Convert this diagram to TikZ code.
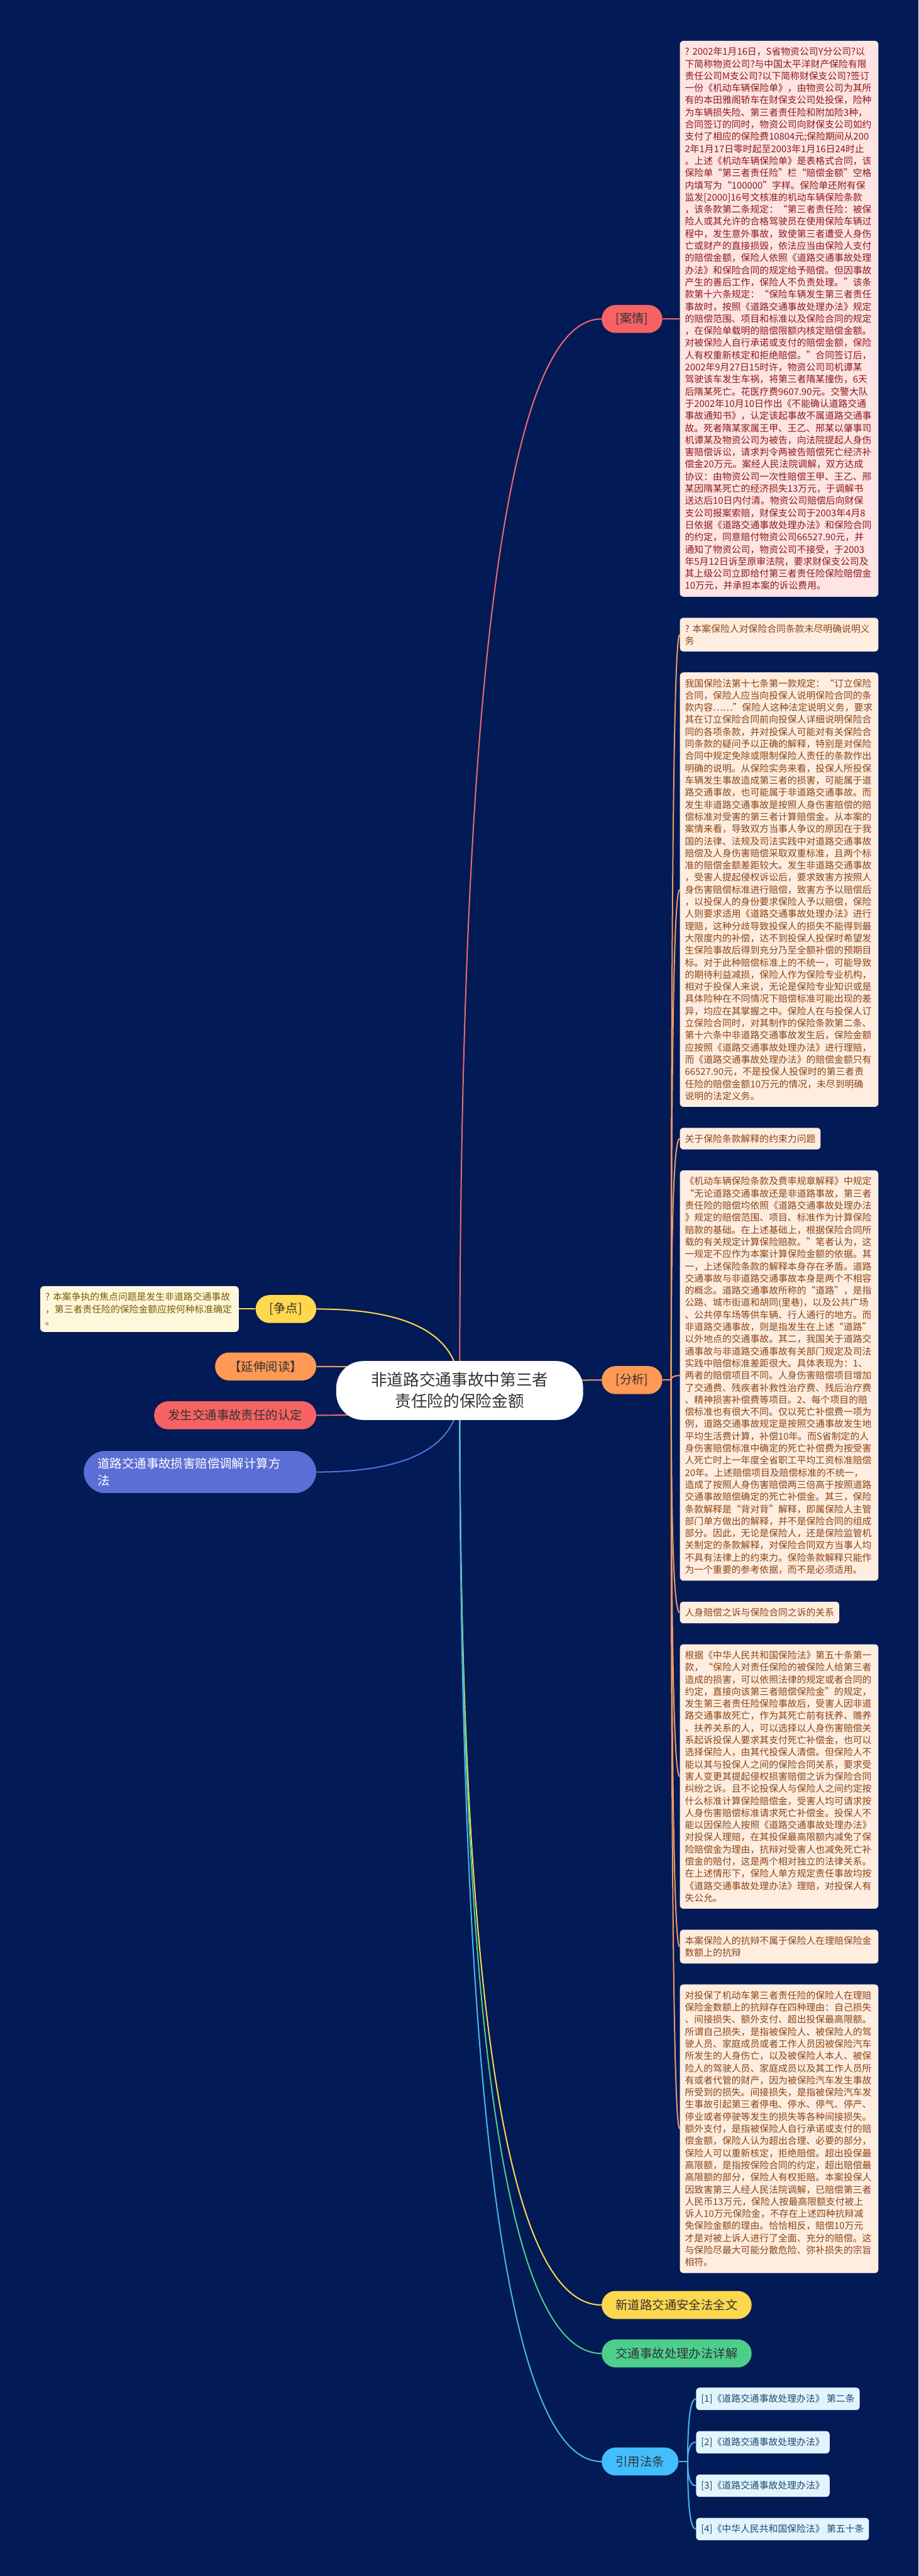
\documentclass[tikz,border=0pt]{standalone}
\usepackage{fontspec}
\setmainfont{Noto Sans CJK SC}
\usetikzlibrary{positioning,calc}

\definecolor{navy}{HTML}{021A56}
\definecolor{darktext}{HTML}{333333}
\definecolor{aqred}{HTML}{F76363}
\definecolor{aqline}{HTML}{EE6A6E}
\definecolor{aqpale}{HTML}{FFE4E4}
\definecolor{aqtext}{HTML}{8C1A1A}
\definecolor{fxorange}{HTML}{FF9955}
\definecolor{fxline}{HTML}{F2995E}
\definecolor{fxpale}{HTML}{FFEDE0}
\definecolor{fxtext}{HTML}{8A4513}
\definecolor{zdyellow}{HTML}{FFD84D}
\definecolor{zdpale}{HTML}{FFF7DC}
\definecolor{zdtext}{HTML}{7A5C00}
\definecolor{jtgreen}{HTML}{4DCF8B}
\definecolor{jsblue}{HTML}{5A6ED4}
\definecolor{yyblue}{HTML}{42BEFF}
\definecolor{yyline}{HTML}{4AB5F0}
\definecolor{yypale}{HTML}{E2F5FF}
\definecolor{yytext}{HTML}{21486B}

\pgfdeclarelayer{bg}
\pgfdeclarelayer{lines}
\pgfsetlayers{bg,lines,main}

\begin{document}
\begin{tikzpicture}[
  topic/.style={rounded corners=0.39cm, minimum height=0.78cm, inner xsep=0.39cm,
    inner ysep=0.2cm, font=\fontsize{9.67}{13.1}\selectfont, text=darktext},
  note/.style={rounded corners=0.1cm, inner xsep=0.14cm, inner ysep=0.18cm,
    font=\fontsize{7.4}{9.62}\selectfont, align=left, anchor=north west},
  longnote/.style={note, text width=5.25cm},
  fxnote/.style={longnote, fill=fxpale, text=fxtext},
  fxshort/.style={note, fill=fxpale, text=fxtext},
  refnote/.style={rounded corners=0.1cm, inner xsep=0.14cm, inner ysep=0.18cm,
    font=\fontsize{7.4}{9.62}\selectfont, fill=yypale, text=yytext},
  link/.style={line width=1pt},
  branch/.style={to path={.. controls ($(\tikztostart)!0.667!(\tikztostart |- \tikztotarget)$)
    and ($(\tikztotarget)!0.667!(\tikztostart |- \tikztotarget)$) .. (\tikztotarget)}}]

\useasboundingbox (0,0) rectangle (25.6,-71.75);
\begin{pgfonlayer}{bg}
\fill[navy] (0,0) rectangle (25.6,-71.75);
\end{pgfonlayer}

\node[fill=white, rounded corners=0.75cm, minimum width=6.88cm, minimum height=1.64cm,
  align=center, font=\fontsize{12.8}{17.1}\selectfont, text=darktext] (root) at (12.81,-38.73)
  {非道路交通事故中第三者\\责任险的保险金额};

\node[topic, fill=zdyellow, anchor=east] (zd) at (8.82,-36.46) {[争点]};
\node[longnote, fill=zdpale, text=zdtext, anchor=east] (zdnote) at (6.66,-36.46)
  {?~本案争执的焦点问题是发生非道路交通事故\\，第三者责任险的保险金额应按何种标准确定\\。};
\node[topic, fill=fxorange, anchor=east] (yd) at (8.82,-38.06) {【延伸阅读】};
\node[topic, fill=aqred, anchor=east] (rd) at (8.82,-39.42) {发生交通事故责任的认定};
\node[topic, fill=jsblue, text=white, anchor=east, text width=5.7cm, align=left,
  rounded corners=0.6cm] (js) at (8.82,-41.00) {道路交通事故损害赔偿调解计算方\\法};

\node[topic, fill=aqred, anchor=west] (aq) at (16.76,-8.885) {[案情]};
\node[topic, fill=fxorange, anchor=west] (fx) at (16.76,-38.44) {[分析]};
\node[topic, fill=zdyellow, anchor=west] (xl) at (16.76,-64.20) {新道路交通安全法全文};
\node[topic, fill=jtgreen, anchor=west] (jt) at (16.76,-65.55) {交通事故处理办法详解};
\node[topic, fill=yyblue, anchor=west] (yy) at (16.76,-68.56) {引用法条};

\node[longnote, fill=aqpale, text=aqtext] (aqnote) at (18.94,-1.13)
  {?~2002年1月16日，S省物资公司Y分公司?以\\
下简称物资公司?与中国太平洋财产保险有限\\
责任公司M支公司?以下简称财保支公司?签订\\
一份《机动车辆保险单》，由物资公司为其所\\
有的本田雅阁轿车在财保支公司处投保，险种\\
为车辆损失险、第三者责任险和附加险3种，\\
合同签订的同时，物资公司向财保支公司如约\\
支付了相应的保险费10804元;保险期间从200\\
2年1月17日零时起至2003年1月16日24时止\\
。上述《机动车辆保险单》是表格式合同，该\\
保险单“第三者责任险”栏“赔偿金额”空格\\
内填写为“100000”字样。保险单还附有保\\
监发[2000]16号文核准的机动车辆保险条款\\
，该条款第二条规定：“第三者责任险：被保\\
险人或其允许的合格驾驶员在使用保险车辆过\\
程中，发生意外事故，致使第三者遭受人身伤\\
亡或财产的直接损毁，依法应当由保险人支付\\
的赔偿金额，保险人依照《道路交通事故处理\\
办法》和保险合同的规定给予赔偿。但因事故\\
产生的善后工作，保险人不负责处理。”该条\\
款第十六条规定：“保险车辆发生第三者责任\\
事故时，按照《道路交通事故处理办法》规定\\
的赔偿范围、项目和标准以及保险合同的规定\\
，在保险单载明的赔偿限额内核定赔偿金额。\\
对被保险人自行承诺或支付的赔偿金额，保险\\
人有权重新核定和拒绝赔偿。”合同签订后，\\
2002年9月27日15时许，物资公司司机谭某\\
驾驶该车发生车祸，将第三者隋某撞伤，6天\\
后隋某死亡。花医疗费9607.90元。交警大队\\
于2002年10月10日作出《不能确认道路交通\\
事故通知书》，认定该起事故不属道路交通事\\
故。死者隋某家属王甲、王乙、邢某以肇事司\\
机谭某及物资公司为被告，向法院提起人身伤\\
害赔偿诉讼，请求判令两被告赔偿死亡经济补\\
偿金20万元。案经人民法院调解，双方达成\\
协议：由物资公司一次性赔偿王甲、王乙、邢\\
某因隋某死亡的经济损失13万元，于调解书\\
送达后10日内付清。物资公司赔偿后向财保\\
支公司报案索赔，财保支公司于2003年4月8\\
日依据《道路交通事故处理办法》和保险合同\\
的约定，同意赔付物资公司66527.90元，并\\
通知了物资公司，物资公司不接受，于2003\\
年5月12日诉至原审法院，要求财保支公司及\\
其上级公司立即给付第三者责任险保险赔偿金\\
10万元，并承担本案的诉讼费用。};

\node[fxnote] (fx1) at (18.94,-17.20) {?~本案保险人对保险合同条款未尽明确说明义\\务};
\node[fxnote, below=0.57cm of fx1.south west, anchor=north west] (fx2)
  {我国保险法第十七条第一款规定：“订立保险\\
合同，保险人应当向投保人说明保险合同的条\\
款内容……”保险人这种法定说明义务，要求\\
其在订立保险合同前向投保人详细说明保险合\\
同的各项条款，并对投保人可能对有关保险合\\
同条款的疑问予以正确的解释，特别是对保险\\
合同中规定免除或限制保险人责任的条款作出\\
明确的说明。从保险实务来看，投保人所投保\\
车辆发生事故造成第三者的损害，可能属于道\\
路交通事故，也可能属于非道路交通事故。而\\
发生非道路交通事故是按照人身伤害赔偿的赔\\
偿标准对受害的第三者计算赔偿金。从本案的\\
案情来看，导致双方当事人争议的原因在于我\\
国的法律、法规及司法实践中对道路交通事故\\
赔偿及人身伤害赔偿采取双重标准，且两个标\\
准的赔偿金额差距较大。发生非道路交通事故\\
，受害人提起侵权诉讼后，要求致害方按照人\\
身伤害赔偿标准进行赔偿，致害方予以赔偿后\\
，以投保人的身份要求保险人予以赔偿，保险\\
人则要求适用《道路交通事故处理办法》进行\\
理赔，这种分歧导致投保人的损失不能得到最\\
大限度内的补偿，达不到投保人投保时希望发\\
生保险事故后得到充分乃至全额补偿的预期目\\
标。对于此种赔偿标准上的不统一，可能导致\\
的期待利益减损，保险人作为保险专业机构，\\
相对于投保人来说，无论是保险专业知识或是\\
具体险种在不同情况下赔偿标准可能出现的差\\
异，均应在其掌握之中。保险人在与投保人订\\
立保险合同时，对其制作的保险条款第二条、\\
第十六条中非道路交通事故发生后，保险金额\\
应按照《道路交通事故处理办法》进行理赔，\\
而《道路交通事故处理办法》的赔偿金额只有\\
66527.90元，不是投保人投保时的第三者责\\
任险的赔偿金额10万元的情况，未尽到明确\\
说明的法定义务。};
\node[fxshort, below=0.57cm of fx2.south west, anchor=north west] (fx3) {关于保险条款解释的约束力问题};
\node[fxnote, below=0.57cm of fx3.south west, anchor=north west] (fx4)
  {《机动车辆保险条款及费率规章解释》中规定\\
“无论道路交通事故还是非道路事故，第三者\\
责任险的赔偿均依照《道路交通事故处理办法\\
》规定的赔偿范围、项目、标准作为计算保险\\
赔款的基础。在上述基础上，根据保险合同所\\
载的有关规定计算保险赔款。”笔者认为，这\\
一规定不应作为本案计算保险金额的依据。其\\
一，上述保险条款的解释本身存在矛盾。道路\\
交通事故与非道路交通事故本身是两个不相容\\
的概念。道路交通事故所称的“道路”，是指\\
公路、城市街道和胡同(里巷)，以及公共广场\\
、公共停车场等供车辆、行人通行的地方。而\\
非道路交通事故，则是指发生在上述“道路”\\
以外地点的交通事故。其二，我国关于道路交\\
通事故与非道路交通事故有关部门规定及司法\\
实践中赔偿标准差距很大。具体表现为：1、\\
两者的赔偿项目不同。人身伤害赔偿项目增加\\
了交通费、残疾者补救性治疗费、残后治疗费\\
、精神损害补偿费等项目。2、每个项目的赔\\
偿标准也有很大不同。仅以死亡补偿费一项为\\
例，道路交通事故规定是按照交通事故发生地\\
平均生活费计算，补偿10年。而S省制定的人\\
身伤害赔偿标准中确定的死亡补偿费为按受害\\
人死亡时上一年度全省职工平均工资标准赔偿\\
20年。上述赔偿项目及赔偿标准的不统一，\\
造成了按照人身伤害赔偿两三倍高于按照道路\\
交通事故赔偿确定的死亡补偿金。其三，保险\\
条款解释是“背对背”解释，即属保险人主管\\
部门单方做出的解释，并不是保险合同的组成\\
部分。因此，无论是保险人，还是保险监管机\\
关制定的条款解释，对保险合同双方当事人均\\
不具有法律上的约束力。保险条款解释只能作\\
为一个重要的参考依据，而不是必须适用。};
\node[fxshort, below=0.57cm of fx4.south west, anchor=north west] (fx5) {人身赔偿之诉与保险合同之诉的关系};
\node[fxnote, below=0.57cm of fx5.south west, anchor=north west] (fx6)
  {根据《中华人民共和国保险法》第五十条第一\\
款，“保险人对责任保险的被保险人给第三者\\
造成的损害，可以依照法律的规定或者合同的\\
约定，直接向该第三者赔偿保险金”的规定，\\
发生第三者责任险保险事故后，受害人因非道\\
路交通事故死亡，作为其死亡前有抚养、赡养\\
、扶养关系的人，可以选择以人身伤害赔偿关\\
系起诉投保人要求其支付死亡补偿金，也可以\\
选择保险人，由其代投保人清偿。但保险人不\\
能以其与投保人之间的保险合同关系，要求受\\
害人变更其提起侵权损害赔偿之诉为保险合同\\
纠纷之诉。且不论投保人与保险人之间约定按\\
什么标准计算保险赔偿金，受害人均可请求按\\
人身伤害赔偿标准请求死亡补偿金。投保人不\\
能以因保险人按照《道路交通事故处理办法》\\
对投保人理赔，在其投保最高限额内减免了保\\
险赔偿金为理由，抗辩对受害人也减免死亡补\\
偿金的赔付，这是两个相对独立的法律关系。\\
在上述情形下，保险人单方规定责任事故均按\\
《道路交通事故处理办法》理赔，对投保人有\\
失公允。};
\node[fxnote, below=0.57cm of fx6.south west, anchor=north west] (fx7)
  {本案保险人的抗辩不属于保险人在理赔保险金\\数额上的抗辩};
\node[fxnote, below=0.57cm of fx7.south west, anchor=north west] (fx8)
  {对投保了机动车第三者责任险的保险人在理赔\\
保险金数额上的抗辩存在四种理由：自己损失\\
、间接损失、额外支付、超出投保最高限额。\\
所谓自己损失，是指被保险人、被保险人的驾\\
驶人员、家庭成员或者工作人员因被保险汽车\\
所发生的人身伤亡，以及被保险人本人、被保\\
险人的驾驶人员、家庭成员以及其工作人员所\\
有或者代管的财产，因为被保险汽车发生事故\\
所受到的损失。间接损失，是指被保险汽车发\\
生事故引起第三者停电、停水、停气、停产、\\
停业或者停驶等发生的损失等各种间接损失。\\
额外支付，是指被保险人自行承诺或支付的赔\\
偿金额，保险人认为超出合理、必要的部分，\\
保险人可以重新核定，拒绝赔偿。超出投保最\\
高限额，是指按保险合同的约定，超出赔偿最\\
高限额的部分，保险人有权拒赔。本案投保人\\
因致害第三人经人民法院调解，已赔偿第三者\\
人民币13万元，保险人按最高限额支付被上\\
诉人10万元保险金，不存在上述四种抗辩减\\
免保险金额的理由。恰恰相反，赔偿10万元\\
才是对被上诉人进行了全面、充分的赔偿。这\\
与保险尽最大可能分散危险、弥补损失的宗旨\\
相符。};

\node[refnote, anchor=west] (yy1) at (19.39,-66.815) {[1]《道路交通事故处理办法》 第二条};
\node[refnote, below=0.57cm of yy1.south west, anchor=north west] (yy2) {[2]《道路交通事故处理办法》};
\node[refnote, below=0.57cm of yy2.south west, anchor=north west] (yy3) {[3]《道路交通事故处理办法》};
\node[refnote, below=0.57cm of yy3.south west, anchor=north west] (yy4) {[4]《中华人民共和国保险法》 第五十条};

\coordinate (fxfork) at ($(fx.east)+(0.24,0)$);
\coordinate (yyfork) at ($(yy.east)+(0.25,0)$);

\begin{pgfonlayer}{lines}
\draw[link, aqline, branch] (root.center) to (aq.west);
\draw[link, aqline] (aq.east) -- (aq.east -| aqnote.west);
\draw[link, fxline, branch] (root.center) to (fx.west);
\draw[link, fxline] (fx.east) -- (fxfork);
\draw[link, fxline, branch] (fxfork) to (fx1.west);
\draw[link, fxline, branch] (fxfork) to (fx2.west);
\draw[link, fxline, branch] (fxfork) to (fx3.west);
\draw[link, fxline, branch] (fxfork) to (fx4.west);
\draw[link, fxline, branch] (fxfork) to (fx5.west);
\draw[link, fxline, branch] (fxfork) to (fx6.west);
\draw[link, fxline, branch] (fxfork) to (fx7.west);
\draw[link, fxline, branch] (fxfork) to (fx8.west);
\draw[link, zdyellow, branch] (root.center) to (xl.west);
\draw[link, jtgreen, branch] (root.center) to (jt.west);
\draw[link, yyline, branch] (root.center) to (yy.west);
\draw[link, yyline] (yy.east) -- (yyfork);
\draw[link, yyline, branch] (yyfork) to (yy1.west);
\draw[link, yyline, branch] (yyfork) to (yy2.west);
\draw[link, yyline, branch] (yyfork) to (yy3.west);
\draw[link, yyline, branch] (yyfork) to (yy4.west);
\draw[link, zdyellow, branch] (root.center) to (zd.east);
\draw[link, zdyellow] (zd.west) -- (zdnote.east);
\draw[link, fxline, branch] (root.center) to (yd.east);
\draw[link, aqline, branch] (root.center) to (rd.east);
\draw[link, jsblue, branch] (root.center) to (js.east);
\end{pgfonlayer}
\end{tikzpicture}
\end{document}
